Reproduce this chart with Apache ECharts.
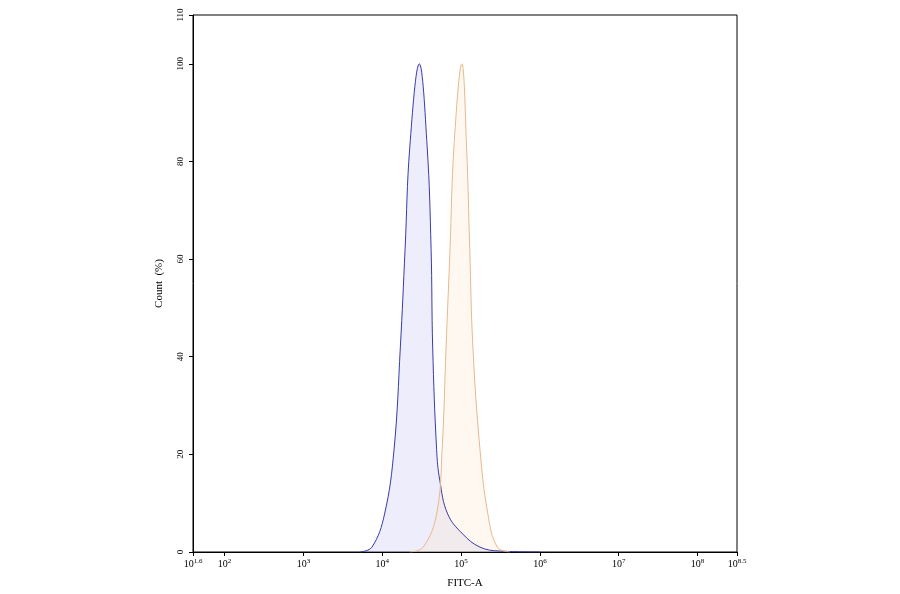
<!DOCTYPE html>
<html>
<head>
<meta charset="utf-8">
<script src="https://cdn.jsdelivr.net/npm/echarts@6/dist/echarts.min.js"></script>
<style>html,body{margin:0;padding:0;background:#fff}#chart{width:900px;height:594px}</style>
</head>
<body>
<div id="chart"></div>
<script>
// x values are log10(FITC-A)
const blueX = [3.72, 3.87, 4.03, 4.15, 4.23, 4.29, 4.35, 4.47, 4.57, 4.62, 4.64, 4.69, 4.73, 4.83, 5.02, 5.24, 5.49, 6.0];
const blueY = [0, 1, 7.8, 21, 42, 62, 83, 100, 83, 62, 42, 21, 14.7, 7.8, 3.7, 1, 0.2, 0];
const orangeX = [4.35, 4.52, 4.69, 4.76, 4.81, 4.86, 4.91, 5.01, 5.07, 5.11, 5.15, 5.24, 5.34, 5.46, 5.62];
const orangeY = [0, 1, 7.8, 21, 42, 62, 83, 100, 83, 62, 42, 21, 7.8, 1, 0];
const xTicks = [1.6, 2, 3, 4, 5, 6, 7, 8, 8.5];
const yTicks = [0, 20, 40, 60, 80, 100, 110];

const font = "Liberation Serif";
const chart = echarts.init(document.getElementById("chart"));

const zip = (xs, ys) => xs.map((x, i) => [x, ys[i]]);

chart.setOption({
  animation: false,
  grid: { left: 193, right: 163, top: 15, bottom: 39, show: true, borderColor: "#000", borderWidth: 1 },
  xAxis: {
    type: "value", min: 1.6, max: 8.5,
    name: "FITC-A", nameLocation: "middle", nameGap: 26,
    nameTextStyle: { fontFamily: font, fontSize: 11, color: "#000" },
    axisLine: { show: true, lineStyle: { color: "#000" } },
    splitLine: { show: false },
    axisTick: { show: true, customValues: xTicks, length: 4, lineStyle: { color: "#000" } },
    axisLabel: {
      customValues: xTicks, color: "#000", fontFamily: font, fontSize: 10, margin: 6,
      formatter: v => "10{s|" + (Number.isInteger(v) ? v : v.toFixed(1)) + "}",
      rich: { s: { fontSize: 7, verticalAlign: "top", padding: [0, 0, 6, 0], fontFamily: font, color: "#000" } }
    }
  },
  yAxis: {
    type: "value", min: 0, max: 110,
    name: "Count  (%)", nameLocation: "middle", nameGap: 28,
    nameTextStyle: { fontFamily: font, fontSize: 11, color: "#000" },
    axisLine: { show: true, lineStyle: { color: "#000" } },
    splitLine: { show: false },
    axisTick: { show: true, customValues: yTicks, length: 4, lineStyle: { color: "#000" } },
    axisLabel: { customValues: yTicks, rotate: 90, color: "#000", fontFamily: font, fontSize: 9, margin: 8 }
  },
  series: [
    {
      type: "line", data: zip(blueX, blueY), smooth: 0.4, symbol: "none",
      lineStyle: { color: "#3b3ba6", width: 1 },
      areaStyle: { color: "rgba(190,190,245,0.4)" }
    },
    {
      type: "line", data: zip(orangeX, orangeY), smooth: 0.4, symbol: "none",
      lineStyle: { color: "#e6b98c", width: 1 },
      areaStyle: { color: "rgba(252,225,195,0.35)" }
    }
  ]
});
</script>
</body>
</html>
